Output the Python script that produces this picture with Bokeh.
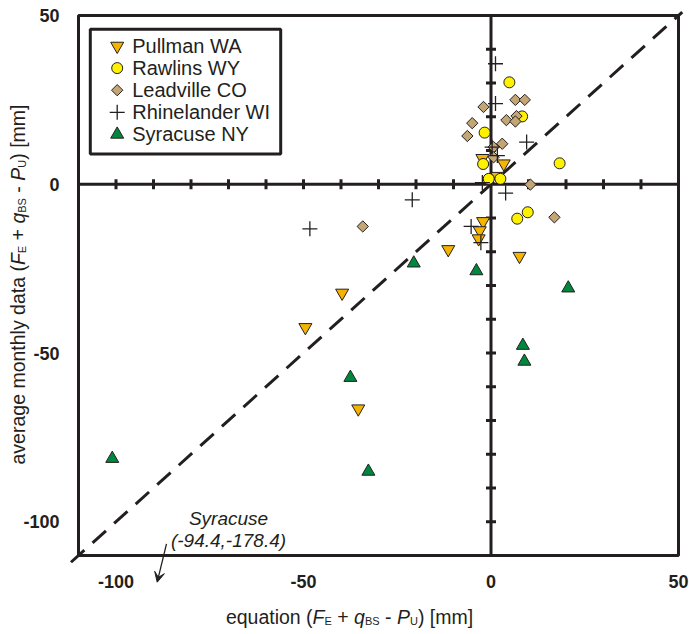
import math
from bokeh.plotting import figure
from bokeh.models import Label, Arrow, VeeHead, Range1d, BoxAnnotation
from bokeh.core.properties import value
from bokeh.embed import file_html
from bokeh.resources import INLINE

# ---------------- data ----------------
pullman_x = [-39.7, -49.5, -35.4, -11.4, -2.1, -3.0, -3.3, 7.6, -2.3, 3.4, 1.7]
pullman_y = [-32.2, -42.4, -66.5, -19.3, -11.0, -13.7, -16.1, -21.3, 7.7, 6.1, 2.4]

rawlins_x = [4.9, 8.3, -1.7, -2.1, 18.3, -0.6, 2.5, 7.0, 9.8]
rawlins_y = [30.2, 20.1, 15.3, 6.0, 6.2, 1.6, 1.6, -10.2, -8.3]

leadville_x = [6.5, 9.0, -2.0, 4.1, 6.8, 6.5, -5.0, -6.3, 0.7, 3.0, 0.7, 10.5, -34.2, 16.9]
leadville_y = [25.0, 25.0, 22.9, 19.0, 20.2, 18.6, 18.1, 14.3, 11.0, 12.0, 8.0, -0.1, -12.5, -9.8]

rhinelander_x = [1.2, 1.2, 9.5, 0.3, 1.7, -2.3, 3.9, -21.0, -48.3, -5.3, -2.7]
rhinelander_y = [35.7, 23.9, 12.5, 11.0, 8.5, 0.5, -2.6, -4.6, -13.2, -12.5, -17.3]

syracuse_x = [-101.0, -20.6, -3.9, -37.5, -32.7, 20.6, 8.5, 8.9]
syracuse_y = [-81.3, -23.4, -25.7, -57.3, -85.1, -30.8, -47.8, -52.5]

series_names = ["Pullman WA", "Rawlins WY", "Leadville CO", "Rhinelander WI", "Syracuse NY"]

plot_lim = [-110, 50]
tick_labels = [-100, -50, 0, 50]
axis_ticks = [-100, -90, -80, -70, -60, -50, -40, -30, -20, -10, 10, 20, 30, 40]
one_to_one = [-112, 51]
outlier_text = ["Syracuse", "(-94.4,-178.4)"]

# ---------------- layout ----------------
INK = "#231f20"
FONT = "Liberation Sans"
CW, CH = 689, 634                      # canvas
BOX_L, BOX_R, BOX_T, BOX_B = 78, 678, 15, 555   # pixel placement of the plot box

ppx = (BOX_R - BOX_L) / (plot_lim[1] - plot_lim[0])
ppy = (BOX_B - BOX_T) / (plot_lim[1] - plot_lim[0])
x_range = Range1d(plot_lim[0] - BOX_L / ppx, plot_lim[1] + (CW - BOX_R) / ppx)
y_range = Range1d(plot_lim[0] - (CH - BOX_B) / ppy, plot_lim[1] + BOX_T / ppy)


def sx2x(sx):
    return x_range.start + sx / ppx


def sy2y(sy):
    return y_range.end - sy / ppy


p = figure(width=CW, height=CH, x_range=x_range, y_range=y_range,
           output_backend="svg", toolbar_location=None,
           x_axis_location=None, y_axis_location=None, min_border=0)
p.grid.grid_line_color = None
p.outline_line_color = None
p.background_fill_color = "white"
p.border_fill_color = "white"

# plot box
p.add_layout(BoxAnnotation(left=plot_lim[0], right=plot_lim[1], bottom=plot_lim[0], top=plot_lim[1],
                           fill_color=None, fill_alpha=0, line_color=INK, line_width=3,
                           line_alpha=1, level="underlay"))

# tick labels (bottom and left of the box)
n = len(tick_labels)
p.text(x=tick_labels, y=[plot_lim[0]] * n, text=[str(t) for t in tick_labels],
       y_offset=19, text_align="center", text_baseline="top",
       text_font=value(FONT), text_font_size="18px", text_font_style="bold", text_color=INK)
p.text(x=[plot_lim[0]] * n, y=tick_labels, text=[str(t) for t in tick_labels],
       x_offset=-19, text_align="right", text_baseline="middle",
       text_font=value(FONT), text_font_size="18px", text_font_style="bold", text_color=INK)

# axes through the origin
p.line(plot_lim, [0, 0], line_color=INK, line_width=3)
p.line([0, 0], plot_lim, line_color=INK, line_width=3)
zeros = [0] * len(axis_ticks)
p.scatter(x=axis_ticks, y=zeros, marker="dash", size=10, angle=math.pi / 2,
          line_color=INK, line_width=3)
p.scatter(x=zeros, y=axis_ticks, marker="dash", size=10, line_color=INK, line_width=3)

# 1:1 line
p.line(one_to_one, one_to_one, line_color=INK, line_width=3, line_dash="18 11")

styles = [
    dict(marker="inverted_triangle", size=13, fill_color="#F5B400", line_color=INK, line_width=1),
    dict(marker="circle", size=11, fill_color="#FFF200", line_color=INK, line_width=1),
    dict(marker="square", angle=math.pi / 4, size=8, fill_color="#C4A574", line_color=INK, line_width=1),
    dict(marker="cross", size=15, line_color=INK, line_width=1.3),
    dict(marker="triangle", size=13, fill_color="#00873E", line_color=INK, line_width=1),
]
series = [(pullman_x, pullman_y), (rawlins_x, rawlins_y), (leadville_x, leadville_y),
          (rhinelander_x, rhinelander_y), (syracuse_x, syracuse_y)]
for (xs, ys), st in zip(series, styles):
    p.scatter(xs, ys, **st)

# legend (box, keys, labels)
LEG_L, LEG_T, LEG_R, LEG_B = 89.8, 28.8, 280.2, 153.5
p.add_layout(BoxAnnotation(left=LEG_L, right=LEG_R, top=CH - LEG_T, bottom=CH - LEG_B,
                           left_units="screen", right_units="screen", top_units="screen",
                           bottom_units="screen", fill_color="white", fill_alpha=1,
                           line_color=INK, line_width=3, line_alpha=1, level="underlay"))
ROW0, ROWH, KEY_X, TXT_X = 45.5, 22.1, 116.7, 131.7
for i, (name, st) in enumerate(zip(series_names, styles)):
    sy = ROW0 + i * ROWH
    p.scatter([sx2x(KEY_X)], [sy2y(sy)], **st)
    p.add_layout(Label(x=TXT_X, y=CH - sy, x_units="screen", y_units="screen", text=name,
                       text_font=FONT, text_font_size="20px", text_align="left",
                       text_baseline="middle", text_color=INK))

# Syracuse off-chart annotation
for txt, sy in zip(outlier_text, (518, 540)):
    p.add_layout(Label(x=228, y=CH - sy, x_units="screen", y_units="screen", text=txt,
                       text_font=FONT, text_font_size="19px", text_font_style="italic",
                       text_align="center", text_baseline="middle", text_color=INK))
p.add_layout(Arrow(x_start=166, y_start=CH - 543.3, x_end=156.7, y_end=CH - 581.7,
                   start_units="screen", end_units="screen", line_color=INK, line_width=1.3,
                   end=VeeHead(size=10, fill_color=INK, line_color=INK, line_width=1)))

# ---------------- rich axis titles ----------------
W = {" ": 278, "(": 333, ")": 333, "[": 278, "]": 278, "+": 584, "-": 333, ",": 278, ".": 278,
     "a": 556, "c": 500, "d": 556, "e": 556, "g": 556, "h": 556, "i": 222, "l": 222, "m": 833,
     "n": 556, "o": 556, "q": 556, "r": 333, "t": 278, "u": 556, "v": 500, "y": 500,
     "B": 667, "E": 667, "F": 611, "P": 667, "S": 667, "U": 722}


def tw(s, fs):
    return sum(W[c] for c in s) * fs / 1000.0


def rich_width(pieces, fs, sfs):
    return sum(tw(t, sfs if k == "sub" else fs) for t, k in pieces)


def rich(pieces, x0, y0, fs, sfs, drop, vertical=False):
    pos = 0.0
    for txt, kind in pieces:
        size = sfs if kind == "sub" else fs
        lead = len(txt) - len(txt.lstrip(" "))
        core = txt.strip(" ")
        pos += tw(" " * lead, size)
        d = drop if kind == "sub" else 0
        if vertical:
            x, y, ang = x0 + d, y0 + pos, math.pi / 2
        else:
            x, y, ang = x0 + pos, y0 - d, 0
        p.add_layout(Label(x=x, y=y, x_units="screen", y_units="screen", text=core, angle=ang,
                           text_font=FONT, text_font_size=f"{size}px",
                           text_font_style="italic" if kind == "i" else "normal",
                           text_align="left", text_baseline="alphabetic", text_color=INK))
        pos += tw(txt[lead:], size)


eq_tail = [("F", "i"), ("E", "sub"), (" + ", "n"), ("q", "i"), ("BS", "sub"), (" - ", "n"),
           ("P", "i"), ("U", "sub"), (") [mm]", "n")]
xt = [("equation (", "n")] + eq_tail
yt = [("average monthly data (", "n")] + eq_tail
FS, SFS, DROP = 19.5, 11, 4
rich(xt, 349 - rich_width(xt, FS, SFS) / 2, CH - 616, FS, SFS, DROP)
rich(yt, 17, (CH - 284) - rich_width(yt, FS, SFS) / 2, FS, SFS, DROP, vertical=True)

open("out.html", "w").write(file_html(p, INLINE))
